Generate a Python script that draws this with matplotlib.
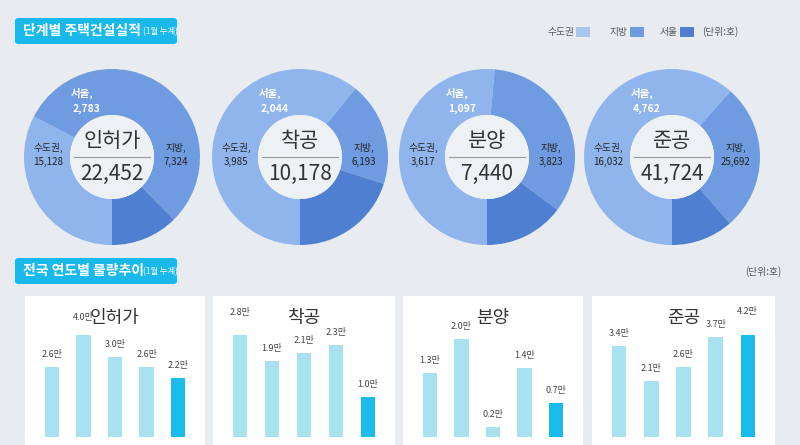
import matplotlib.pyplot as plt
from matplotlib.patches import Rectangle, Circle, FancyBboxPatch

plt.rcParams['font.family'] = 'Noto Sans CJK KR'

# Donut data (1월 누계, 단위: 호)
stages = ['인허가', '착공', '분양', '준공']
capital = [15128, 3985, 3617, 16032]
local = [7324, 6193, 3823, 25692]
seoul = [2783, 2044, 1097, 4762]
totals = ['22,452', '10,178', '7,440', '41,724']

# Yearly trend (만 호), 5 years per stage
trend = [
    [2.6, 4.0, 3.0, 2.6, 2.2],
    [2.8, 1.9, 2.1, 2.3, 1.0],
    [1.3, 2.0, 0.2, 1.4, 0.7],
    [3.4, 2.1, 2.6, 3.7, 4.2],
]

W, H = 800, 445
bg = '#e8ecf1'
c_local, c_cap, c_seoul = '#8fb5ec', '#6f9be0', '#4f7fd0'

fig = plt.figure(figsize=(8, 4.45), dpi=100, facecolor=bg)
base = fig.add_axes([0, 0, 1, 1])
base.axis('off')


def header(x, y, w, text, sub):
    base.add_patch(FancyBboxPatch((x, y), w, 26, boxstyle='round,pad=0,rounding_size=3',
                                  fc='#19b9ec', ec='none'))
    base.text(x + 8, y + 13, text, color='white', fontsize=10, fontweight='bold', va='center')
    base.text(x + 128, y + 14, sub, color='white', fontsize=6, va='center')


# donuts
centers = [112, 300, 487, 672]
cy, r_out, r_in = 157, 88, 42
for i, cx in enumerate(centers):
    vals = [local[i], capital[i] - seoul[i], seoul[i]]
    # y axis is inverted, so counterclock=True runs clockwise on screen
    base.pie(vals, colors=[c_local, c_cap, c_seoul], startangle=90, counterclock=True,
             center=(cx, cy), radius=r_out, frame=True,
             wedgeprops=dict(width=r_out - r_in, edgecolor='none'))
    base.add_patch(Circle((cx, cy), r_in, fc='#eef1f4', ec='none'))
    base.text(cx, cy - 16, stages[i], fontsize=15, ha='center', va='center', color='#333333')
    base.plot([cx - 38, cx + 38], [cy, cy], color='#999999', lw=0.8)
    base.text(cx, cy + 17, totals[i], fontsize=15, ha='center', va='center', color='#333333')
    base.text(cx - 64, cy - 9, '수도권,', fontsize=7, ha='center', va='center', color='#222222')
    base.text(cx - 64, cy + 5, f'{capital[i]:,}', fontsize=7, ha='center', va='center', color='#222222')
    base.text(cx + 64, cy - 9, '지방,', fontsize=7, ha='center', va='center', color='#222222')
    base.text(cx + 64, cy + 5, f'{local[i]:,}', fontsize=7, ha='center', va='center', color='#222222')
    base.text(cx - 30, cy - 64, '서울,', fontsize=7.5, ha='center', va='center', color='white', fontweight='bold')
    base.text(cx - 25, cy - 48, f'{seoul[i]:,}', fontsize=7.5, ha='center', va='center', color='white', fontweight='bold')
base.set_xlim(0, W)
base.set_ylim(H, 0)
base.set_aspect('auto')

header(15, 18, 162, '단계별 주택건설실적', '(1월 누계)')
header(15, 258, 162, '전국 연도별 물량추이', '(1월 누계)')

# legend
for lx, lab, col in [(548, '수도권', '#a9c6f0'), (610, '지방', c_cap), (660, '서울', c_seoul)]:
    base.text(lx, 32, lab, fontsize=7, color='#555555', va='center')
    base.add_patch(Rectangle((lx + len(lab) * 8 + 4, 27), 14, 10, fc=col, ec='none'))
base.text(702, 32, '(단위:호)', fontsize=7, color='#555555', va='center')
base.text(745, 272, '(단위:호)', fontsize=7, color='#555555', va='center')

# trend panels
panels = [(25, 205), (213, 395), (403, 583), (592, 775)]
bar_tops = [346, 341, 355, 340]
top, baseline = 296, 453
for i, (x0, x1) in enumerate(panels):
    base.add_patch(Rectangle((x0, top), x1 - x0, H - top, fc='white', ec='none'))
    base.text((x0 + x1) / 2, 318, stages[i], fontsize=13, ha='center', va='center', color='#333333')
    ax = fig.add_axes([(x0 + 8) / W, 0, (x1 - x0 - 16) / W, (H - 335) / H])
    ax.set_facecolor('none')
    unit = (baseline - bar_tops[i]) / max(trend[i])
    xs = range(len(trend[i]))
    cols = ['#a8e2f0'] * (len(trend[i]) - 1) + ['#19bdec']
    ax.bar(xs, trend[i], width=0.45, color=cols)
    for x, v in zip(xs, trend[i]):
        ax.text(x, v + 8 / unit, f'{v:.1f}만', ha='center', va='bottom', fontsize=6.5, color='#444444')
    ax.set_xlim(-0.6, 4.6)
    ax.set_ylim(-(baseline - H) / unit, (H - 335 - (baseline - H)) / unit)
    ax.axis('off')

fig.savefig('out.png', dpi=100, facecolor=bg)
